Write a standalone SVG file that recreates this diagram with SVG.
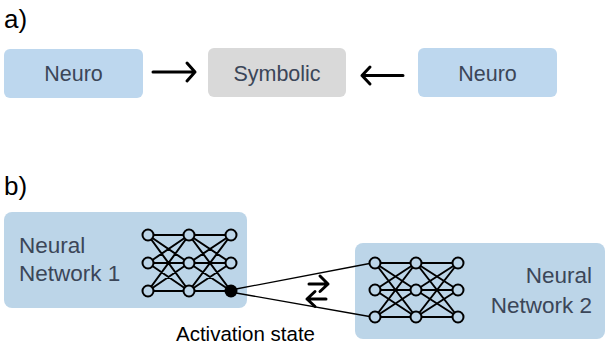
<svg xmlns="http://www.w3.org/2000/svg" width="606" height="346" viewBox="0 0 606 346">
  <style>
    .lbl { font-family: "Liberation Sans", Arial, sans-serif; font-size: 26px; fill: #000; }
    .txt { font-family: "Liberation Sans", Arial, sans-serif; font-size: 21.5px; fill: #3B4658; }
    .big { font-size: 22.5px; }
    .blue { fill: #BDD7EE; }
    .grey { fill: #D9D9D9; }
    .nnbox { fill: #BCD5E8; }
    .arr { fill: none; stroke: #000; stroke-width: 3; stroke-linecap: round; stroke-linejoin: round; }
    .edge { stroke: #000; stroke-width: 2; }
    .unit { fill: #BCD5E8; stroke: #000; stroke-width: 2; }
    .link { stroke: #000; stroke-width: 1.3; fill: none; }
  </style>

  <!-- panel a -->
  <text class="lbl" x="4" y="28">a)</text>

  <g id="neuro-left">
    <rect class="blue" x="4" y="49" width="139" height="49" rx="6"/>
    <text class="txt" x="73.5" y="81" text-anchor="middle">Neuro</text>
  </g>
  <g id="symbolic">
    <rect class="grey" x="208" y="48" width="138" height="49" rx="6"/>
    <text class="txt" x="277" y="81" text-anchor="middle">Symbolic</text>
  </g>
  <g id="neuro-right">
    <rect class="blue" x="418" y="48" width="139" height="49" rx="6"/>
    <text class="txt" x="487.5" y="81" text-anchor="middle">Neuro</text>
  </g>

  <g id="connectors-a">
    <path class="arr" d="M153 72 H195 M187 63 L195 72 L187 81"/>
    <path class="arr" d="M403 75.5 H362 M370 67 L362 75.5 L370 84"/>
  </g>

  <!-- panel b -->
  <text class="lbl" x="4" y="195">b)</text>

  <g id="nn1">
    <rect class="nnbox" x="4" y="212" width="243" height="96" rx="8"/>
    <text class="txt big" x="19" y="253">Neural</text>
    <text class="txt big" x="19" y="281">Network 1</text>
    <g>
      <path class="edge" d="
        M148 235 L189 235 M148 235 L189 263 M148 235 L189 291
        M148 263 L189 235 M148 263 L189 263 M148 263 L189 291
        M148 291 L189 235 M148 291 L189 263 M148 291 L189 291
        M189 235 L231 235 M189 235 L231 263 M189 235 L231 291
        M189 263 L231 235 M189 263 L231 263 M189 263 L231 291
        M189 291 L231 235 M189 291 L231 263 M189 291 L231 291"/>
      <circle class="unit" cx="148" cy="235" r="5.5"/>
      <circle class="unit" cx="148" cy="263" r="5.5"/>
      <circle class="unit" cx="148" cy="291" r="5.5"/>
      <circle class="unit" cx="189" cy="235" r="5.5"/>
      <circle class="unit" cx="189" cy="263" r="5.5"/>
      <circle class="unit" cx="189" cy="291" r="5.5"/>
      <circle class="unit" cx="231" cy="235" r="5.5"/>
      <circle class="unit" cx="231" cy="263" r="5.5"/>
      <circle cx="231" cy="291" r="6.5" fill="#000"/>
    </g>
  </g>

  <g id="nn2">
    <rect class="nnbox" x="355" y="243" width="250" height="96" rx="8"/>
    <text class="txt big" x="592" y="283" text-anchor="end">Neural</text>
    <text class="txt big" x="592" y="313" text-anchor="end">Network 2</text>
    <g>
      <path class="edge" d="
        M375 263 L416 263 M375 263 L416 290 M375 263 L416 317
        M375 290 L416 263 M375 290 L416 290 M375 290 L416 317
        M375 317 L416 263 M375 317 L416 290 M375 317 L416 317
        M416 263 L458 263 M416 263 L458 290 M416 263 L458 317
        M416 290 L458 263 M416 290 L458 290 M416 290 L458 317
        M416 317 L458 263 M416 317 L458 290 M416 317 L458 317"/>
      <circle class="unit" cx="375" cy="263" r="5.5"/>
      <circle class="unit" cx="375" cy="290" r="5.5"/>
      <circle class="unit" cx="375" cy="317" r="5.5"/>
      <circle class="unit" cx="416" cy="263" r="5.5"/>
      <circle class="unit" cx="416" cy="290" r="5.5"/>
      <circle class="unit" cx="416" cy="317" r="5.5"/>
      <circle class="unit" cx="458" cy="263" r="5.5"/>
      <circle class="unit" cx="458" cy="290" r="5.5"/>
      <circle class="unit" cx="458" cy="317" r="5.5"/>
    </g>
  </g>

  <g id="connectors-b">
    <path class="link" d="M236 289 L369.5 263.5"/>
    <path class="link" d="M236 293 L369.5 316.5"/>
    <path class="arr" d="M309 284 H328 M320 276 L328 284 L320 291.5 M307 299 H326 M315 291.5 L307 299 L315 306.5"/>
  </g>

  <text class="txt" x="176" y="341" style="fill:#000;font-size:20.5px">Activation state</text>
</svg>
